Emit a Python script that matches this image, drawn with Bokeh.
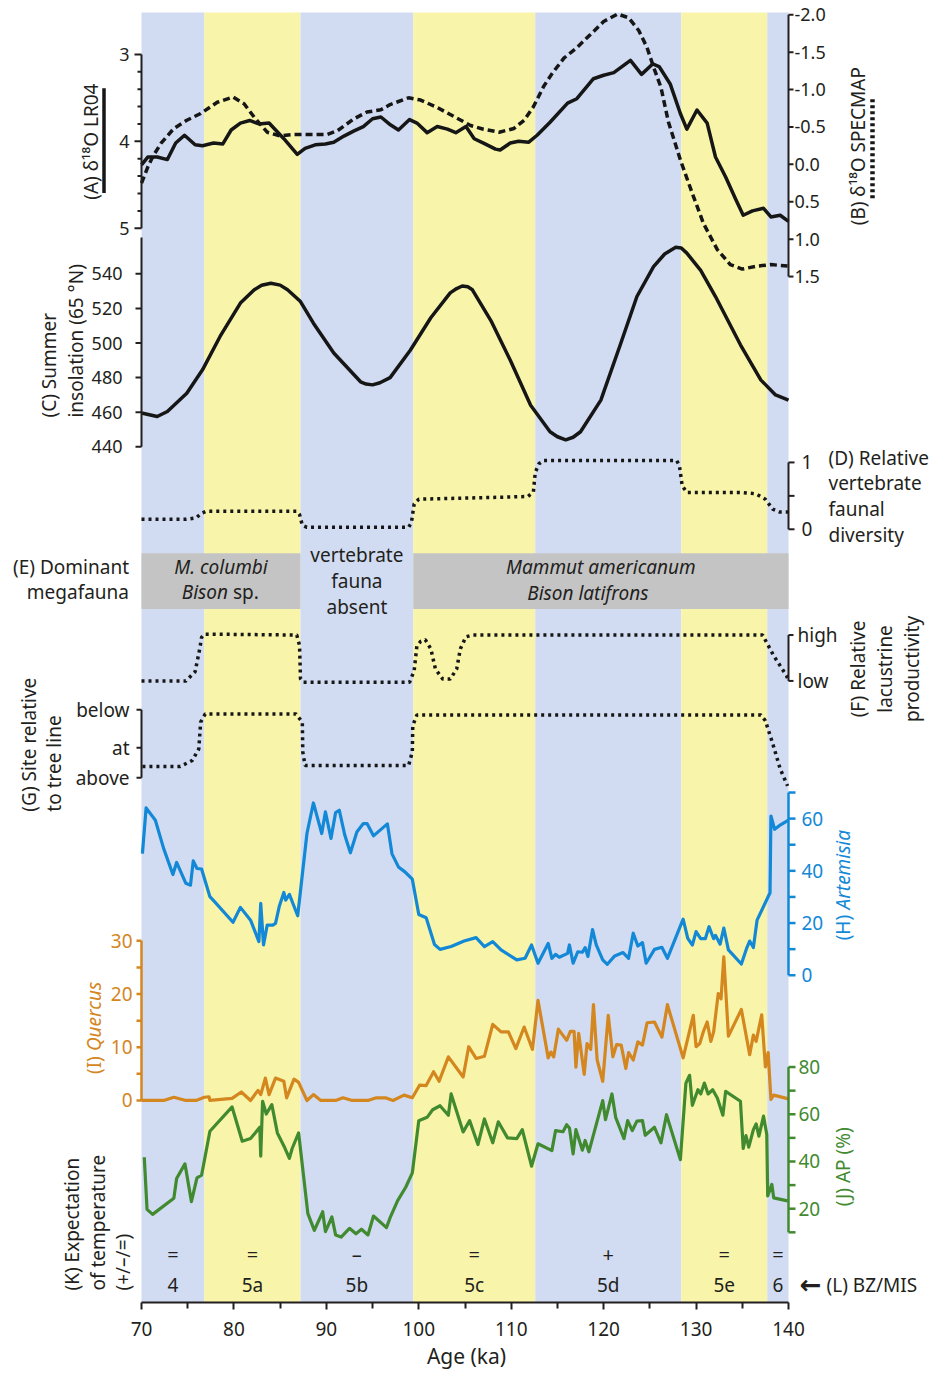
import math
from bokeh.plotting import figure
from bokeh.models import Range1d, BoxAnnotation, FixedTicker
from bokeh.core.properties import value
from bokeh.embed import file_html
from bokeh.resources import INLINE

# ---------------- data ----------------
band_edges = [70, 76.8, 87.2, 99.4, 112.6, 128.4, 137.7, 140]
band_names = ["4", "5a", "5b", "5c", "5d", "5e", "6"]
band_warm = [False, True, False, True, False, True, False]
temp_expect = ["=", "=", "\u2013", "=", "+", "=", "="]

age_ticks = [70, 80, 90, 100, 110, 120, 130, 140]
age_minor = [75, 85, 95, 105, 115, 125, 135]

# (A) d18O LR04 (solid)
lr04_age = [70.0, 70.7, 71.7, 72.8, 73.7, 74.65, 75.8, 76.6, 77.8, 78.8,
            79.7, 80.7, 81.7, 82.7, 83.8, 85.4, 86.85, 87.7, 88.8, 89.9,
            90.8, 91.9, 93.0, 94.0, 95.0, 95.9, 96.8, 97.8, 99.0, 99.8,
            100.9, 102.0, 103.1, 104.0, 105.1, 106.0, 107.0, 108.3, 108.8, 109.9,
            110.8, 111.9, 112.8, 114.2, 116.1, 117.1, 118.9, 120.0, 121.1, 122.9,
            124.1, 125.3, 126.0, 127.2, 128.3, 129.0, 130.1, 131.2, 132.1, 133.2,
            134.3, 135.1, 136.1, 137.3, 138.1, 139.1, 140.0]
lr04 = [4.27, 4.18, 4.18, 4.21, 4.02, 3.93, 4.04, 4.05, 4.02, 4.03,
        3.87, 3.79, 3.76, 3.80, 3.79, 3.97, 4.15, 4.08, 4.04, 4.03,
        4.01, 3.94, 3.88, 3.83, 3.74, 3.72, 3.80, 3.87, 3.75, 3.79,
        3.90, 3.83, 3.86, 3.90, 3.83, 3.97, 4.02, 4.09, 4.10, 4.02,
        4.00, 4.01, 3.93, 3.78, 3.56, 3.51, 3.28, 3.24, 3.21, 3.07,
        3.23, 3.11, 3.14, 3.34, 3.68, 3.86, 3.64, 3.79, 4.18, 4.41,
        4.67, 4.85, 4.80, 4.77, 4.87, 4.85, 4.92]

# (B) d18O SPECMAP (dashed)
specmap_age = [70.0, 70.7, 71.2, 72.1, 73.5, 74.9, 76.4, 78.2, 79.9, 81.1,
               82.2, 83.6, 85.0, 86.5, 90.1, 91.2, 93.0, 94.4, 95.9, 96.9,
               98.9, 100.2, 102.0, 103.8, 105.6, 107.0, 108.7, 110.3, 111.4, 112.4,
               113.5, 114.4, 115.7, 117.1, 118.6, 120.0, 121.5, 122.7, 123.8, 124.7,
               125.4, 126.2, 127.0, 128.3, 129.6, 130.8, 132.3, 133.7, 135.0, 136.6,
               138.1, 139.9]
specmap = [0.25, 0.03, -0.10, -0.28, -0.48, -0.59, -0.68, -0.83, -0.90, -0.81,
           -0.63, -0.43, -0.38, -0.40, -0.40, -0.45, -0.61, -0.70, -0.73, -0.80,
           -0.89, -0.86, -0.76, -0.64, -0.52, -0.47, -0.43, -0.48, -0.59, -0.77,
           -1.04, -1.21, -1.42, -1.56, -1.74, -1.91, -2.01, -1.96, -1.79, -1.56,
           -1.30, -1.03, -0.57, -0.06, 0.39, 0.79, 1.14, 1.34, 1.40, 1.36,
           1.34, 1.36]

# (C) summer insolation 65N
ins_age = [70.0, 71.7, 72.8, 74.9, 76.6, 78.5, 80.7, 82.2, 83.0, 84.0,
           85.0, 85.8, 87.2, 88.6, 90.8, 93.7, 94.3, 95.0, 95.8, 96.9,
           99.1, 101.3, 103.4, 104.1, 104.7, 105.3, 105.8, 107.8, 109.9, 112.1,
           114.2, 115.0, 115.9, 116.7, 117.5, 119.7, 121.8, 123.6, 125.4, 126.6,
           127.8, 128.4, 129.0, 130.5, 132.1, 134.8, 137.0, 138.6, 140.0]
ins = [459.5, 457.5, 460.4, 471.0, 484.5, 503.8, 523.1, 530.8, 533.4, 534.6,
       533.5, 530.8, 524.0, 511.5, 494.2, 477.6, 476.3, 475.8, 477.0, 480.0,
       496.0, 514.6, 529.0, 531.5, 533.0, 532.5, 530.8, 513.0, 490.0, 464.0,
       448.7, 445.8, 444.0, 445.5, 448.7, 467.0, 499.0, 526.9, 544.2, 551.5,
       555.4, 555.0, 552.0, 542.0, 526.9, 499.0, 478.7, 470.0, 467.0]

# (D) relative vertebrate faunal diversity
div_age = [70.0, 74.8, 75.9, 76.5, 77.0, 86.8, 87.1, 87.4, 87.9, 98.9,
           99.2, 99.5, 100.0, 111.8, 112.4, 112.6, 113.0, 113.5, 127.9, 128.2,
           128.5, 129.0, 135.0, 136.5, 137.5, 138.3, 139.0, 140.0]
div = [0.15, 0.15, 0.17, 0.24, 0.27, 0.27, 0.22, 0.06, 0.03, 0.03,
       0.10, 0.38, 0.45, 0.49, 0.56, 0.85, 0.98, 1.03, 1.03, 0.95,
       0.65, 0.55, 0.55, 0.53, 0.45, 0.30, 0.26, 0.26]

# (E) dominant megafauna: grey boxes span these band-edge index ranges
fauna_spans = [(0, 2), (3, 7)]

# (F) relative lacustrine productivity (0 = low, 1 = high)
lake_age = [70.0, 74.8, 75.8, 76.3, 76.5, 76.8, 86.8, 87.1, 87.2, 87.5,
            99.0, 99.5, 99.8, 100.2, 100.7, 101.3, 101.8, 102.6, 103.4, 104.1,
            104.5, 105.1, 105.8, 137.2, 138.4, 139.8, 140.0]
lake = [0.0, 0.0, 0.2, 0.7, 0.95, 1.02, 1.0, 0.77, 0.05, -0.03,
        -0.03, 0.22, 0.77, 0.86, 0.9, 0.7, 0.26, 0.04, 0.04, 0.26,
        0.7, 0.96, 1.0, 1.0, 0.55, 0.11, 0.0]

# (G) site relative to tree line (0 = above, 2 = below)
tree_age = [70.1, 74.2, 75.5, 76.2, 76.4, 76.9, 86.7, 87.4, 87.45, 87.7,
            98.9, 99.3, 99.35, 99.8, 137.0, 137.5, 138.3, 139.1, 139.9]
tree = [0.33, 0.33, 0.51, 0.85, 1.64, 1.88, 1.88, 1.64, 0.76, 0.36,
        0.36, 0.76, 1.54, 1.85, 1.85, 1.68, 1.0, 0.26, -0.24]

# (H) Artemisia %
art_age = [70.1, 70.5, 71.5, 72.4, 73.4, 73.8, 74.8, 75.3, 75.6, 76.0,
           76.5, 77.4, 77.9, 79.9, 80.7, 81.8, 82.7, 82.9, 83.2, 83.6,
           84.2, 84.5, 84.9, 85.4, 85.6, 86.0, 86.9, 87.9, 88.6, 89.5,
           89.9, 90.5, 91.0, 91.4, 92.0, 92.6, 93.3, 94.0, 94.4, 95.1,
           96.6, 97.1, 97.8, 98.5, 99.3, 100.0, 100.8, 101.7, 102.3, 103.5,
           104.9, 106.2, 107.1, 108.0, 108.9, 110.6, 111.5, 112.2, 112.9, 114.0,
           114.4, 114.8, 115.2, 116.1, 116.3, 116.7, 117.2, 117.7, 118.0, 118.3,
           118.8, 119.2, 119.9, 120.4, 121.2, 122.1, 122.7, 123.2, 123.7, 124.2,
           124.6, 125.5, 126.3, 126.9, 128.6, 129.1, 129.6, 130.0, 130.5, 131.0,
           131.4, 131.9, 132.1, 132.6, 133.0, 133.5, 134.9, 135.5, 135.8, 136.2,
           136.6, 138.0, 138.1, 138.5, 139.0, 140.0]
art = [46.6, 64.1, 59.4, 48.5, 38.6, 43.2, 35.2, 34.5, 43.8, 40.9,
       40.7, 30.1, 28.2, 20.3, 26.0, 21.1, 12.9, 27.5, 11.6, 19.2,
       19.2, 19.9, 26.3, 31.7, 28.8, 31.0, 22.8, 54.3, 66.0, 54.3,
       62.6, 52.4, 62.3, 63.2, 53.6, 46.9, 54.9, 58.1, 58.1, 53.4,
       58.0, 46.5, 41.5, 39.6, 36.8, 23.3, 22.0, 11.8, 9.9, 11.0,
       13.1, 14.4, 11.0, 12.9, 9.7, 5.9, 6.5, 11.6, 4.6, 12.2,
       6.5, 8.0, 6.9, 8.4, 11.6, 4.6, 9.0, 8.8, 10.6, 7.2,
       17.5, 11.6, 5.9, 4.2, 7.4, 8.7, 6.5, 16.1, 11.2, 12.5,
       4.6, 9.9, 10.7, 6.5, 21.5, 14.1, 11.6, 16.7, 14.0, 14.0,
       18.6, 14.0, 15.3, 11.9, 18.1, 9.7, 4.3, 10.6, 13.1, 10.6,
       21.1, 31.6, 61.0, 55.9, 57.3, 59.4]

# (I) Quercus %
que_age = [70.0, 72.4, 73.5, 74.8, 75.9, 76.8, 77.3, 77.4, 79.8, 80.8,
           81.8, 82.6, 82.9, 83.4, 83.8, 84.5, 85.4, 85.7, 86.5, 87.0,
           87.9, 88.6, 89.4, 91.0, 91.8, 92.8, 94.5, 95.4, 96.4, 97.2,
           98.4, 99.3, 100.1, 100.8, 101.6, 102.2, 103.2, 104.8, 105.4, 106.2,
           107.1, 108.0, 108.9, 109.7, 110.5, 111.4, 112.3, 112.9, 114.0, 114.3,
           114.6, 115.1, 116.0, 116.4, 116.8, 117.0, 117.3, 117.9, 118.2, 118.6,
           118.9, 119.3, 119.9, 120.5, 121.0, 121.4, 121.9, 122.4, 122.7, 123.2,
           123.7, 124.2, 124.7, 125.5, 126.3, 126.9, 128.6, 129.7, 130.0, 130.4,
           130.8, 131.2, 131.6, 131.9, 132.4, 132.7, 133.0, 133.5, 134.9, 135.8,
           136.2, 136.5, 137.1, 137.5, 137.8, 138.1, 138.4, 140.0]
que = [0.0, 0.0, 0.6, 0.0, 0.0, 0.6, 0.7, 0.0, 0.4, 1.6,
       0.0, 1.9, 1.1, 4.2, 1.1, 4.2, 3.6, 0.5, 4.0, 3.4,
       0.0, 1.1, 0.0, 0.0, 0.5, 0.0, 0.0, 0.5, 0.5, 0.0,
       1.0, 0.5, 2.9, 2.8, 5.4, 3.6, 8.2, 4.4, 10.1, 7.9,
       8.3, 14.3, 12.9, 12.9, 9.75, 13.8, 9.6, 18.8, 8.0, 9.1,
       8.2, 13.4, 11.3, 13.0, 13.0, 6.25, 12.6, 4.9, 10.7, 9.6,
       18.0, 7.6, 3.6, 16.0, 8.2, 10.5, 10.4, 6.0, 9.0, 7.6,
       11.0, 10.4, 14.6, 14.75, 11.9, 18.0, 8.0, 16.0, 10.1, 10.7,
       13.0, 14.75, 11.1, 12.9, 20.1, 19.1, 27.0, 12.1, 17.1, 8.6,
       12.3, 11.1, 16.1, 6.3, 9.0, 0.2, 1.0, 0.3]

# (J) arboreal pollen %
ap_age = [70.3, 70.6, 71.2, 73.5, 73.8, 74.7, 75.4, 76.0, 76.5, 77.4,
          79.8, 80.9, 81.8, 82.8, 82.9, 83.1, 83.5, 84.1, 84.7, 85.5,
          86.0, 86.3, 87.0, 88.0, 88.7, 89.6, 89.9, 90.6, 91.0, 91.6,
          92.5, 93.2, 93.8, 94.5, 95.1, 96.5, 96.9, 97.7, 98.6, 99.3,
          100.0, 100.9, 101.5, 102.3, 103.2, 103.5, 104.8, 105.5, 106.4, 107.1,
          108.0, 108.6, 109.6, 110.6, 111.2, 112.2, 112.9, 114.4, 114.8, 115.6,
          116.0, 116.3, 116.7, 117.0, 117.7, 118.0, 118.4, 119.9, 120.2, 120.9,
          121.3, 122.2, 122.6, 123.1, 123.6, 124.2, 124.5, 125.5, 126.2, 126.8,
          128.3, 128.9, 129.3, 129.6, 130.2, 130.5, 130.9, 131.3, 131.8, 132.3,
          132.9, 133.2, 134.8, 135.1, 135.4, 135.7, 136.2, 136.5, 136.8, 137.3,
          137.65, 137.75, 138.2, 138.4, 139.9]
ap = [41.8, 19.7, 17.6, 24.4, 32.8, 39.0, 23.0, 33.1, 34.2, 52.8,
      63.1, 48.6, 49.7, 54.5, 42.3, 65.5, 60.1, 64.1, 52.1, 45.8,
      41.3, 45.5, 52.1, 17.9, 10.8, 18.7, 10.3, 16.5, 8.9, 8.0,
      11.7, 9.4, 11.3, 8.9, 16.9, 12.0, 16.2, 23.3, 29.2, 35.2,
      57.3, 58.7, 61.9, 63.6, 59.6, 68.6, 52.5, 57.3, 47.2, 58.0,
      47.9, 56.8, 50.0, 49.7, 53.5, 38.0, 47.5, 44.6, 53.1, 52.6,
      55.6, 54.2, 43.2, 53.5, 44.8, 48.9, 44.1, 65.8, 57.7, 68.6,
      58.7, 49.7, 57.3, 53.1, 57.1, 57.3, 51.1, 54.5, 47.9, 59.8,
      40.8, 73.2, 76.5, 63.8, 70.4, 68.6, 73.2, 68.6, 70.4, 66.9,
      59.6, 69.7, 65.5, 45.5, 51.0, 46.1, 53.5, 55.9, 50.7, 59.2,
      51.4, 25.4, 30.3, 24.6, 23.3]

# axis tick values / labels
a_ticks = [3, 4, 5]
a_minor = [3.2, 3.4, 3.6, 3.8, 4.2, 4.4, 4.6, 4.8]
b_ticks = [-2.0, -1.5, -1.0, -0.5, 0.0, 0.5, 1.0, 1.5]
b_labels = ["-2.0", "-1.5", "-1.0", "-0.5", "0.0", "0.5", "1.0", "1.5"]
c_ticks = [440, 460, 480, 500, 520, 540]
d_ticks = [0, 0.5, 1]
d_label_vals = [0, 1]
d_labels = ["0", "1"]
f_ticks = [0, 1]
f_labels = ["low", "high"]
g_ticks = [0, 0.88, 2]
g_labels = ["above", "at", "below"]
h_ticks = [0, 10, 20, 30, 40, 50, 60, 70]
h_label_vals = [0, 20, 40, 60]
i_ticks = [0, 5, 10, 15, 20, 25, 30]
i_label_vals = [0, 10, 20, 30]
j_ticks = [10, 20, 30, 40, 50, 60, 70, 80]
j_label_vals = [20, 40, 60, 80]

# ---------------- style ----------------
FONT = "Noto Sans"
INK = "#231f20"
LINE = "#161616"
BLUE_BG = "#d1dcf2"
YELLOW_BG = "#f8f5aa"
GREY = "#c4c4c4"
C_ART = "#1288d6"
C_QUE = "#d4861f"
C_AP = "#418a2f"

W, H = 932, 1372
PAGE_MARGIN = 0.0
FRAME_TOP = PAGE_MARGIN
FRAME_BOTTOM = 1305.0
AX_L_PX, AX_R_PX = 141.0, 788.0
AGE_LO, AGE_HI = band_edges[0], band_edges[-1]
PPK = (AX_R_PX - AX_L_PX) / (AGE_HI - AGE_LO)


def px2age(px):
    return AGE_LO + (px - AX_L_PX) / PPK


def panel_range(v1, p1, v2, p2):
    s = (v2 - v1) / (p2 - p1)
    return Range1d(start=v1 + (FRAME_BOTTOM - p1) * s, end=v1 + (FRAME_TOP - p1) * s)


p = figure(width=W, height=H,
           x_range=Range1d(px2age(PAGE_MARGIN), px2age(PAGE_MARGIN + W)),
           y_range=Range1d(FRAME_BOTTOM, FRAME_TOP),
           output_backend="svg", toolbar_location=None, y_axis_location=None,
           min_border_left=0, min_border_right=0, min_border_top=0,
           min_border_bottom=int(H - (FRAME_BOTTOM - PAGE_MARGIN)))
p.outline_line_color = None
p.grid.visible = False
p.background_fill_color = "white"
p.border_fill_color = "white"

p.extra_y_ranges = {
    "A": panel_range(3, 54.0, 5, 228.3),
    "B": panel_range(-2.0, 14.3, 1.5, 276.7),
    "C": panel_range(440, 447.3, 540, 274.0),
    "D": panel_range(0, 530.0, 1, 463.0),
    "F": panel_range(0, 682.0, 1, 636.0),
    "G": panel_range(0, 779.0, 2, 711.0),
    "H": panel_range(0, 977.0, 60, 820.0),
    "I": panel_range(0, 1102.5, 30, 942.5),
    "J": panel_range(20, 1211.0, 80, 1069.0),
}

# background bands (MIS stages)
for a, b, warm in zip(band_edges[:-1], band_edges[1:], band_warm):
    p.add_layout(BoxAnnotation(left=a, right=b, top=12, fill_color=YELLOW_BG if warm else BLUE_BG,
                               fill_alpha=1.0, line_color=None, level="underlay"))

# (E) grey boxes
p.quad(left=[band_edges[i] for i, _ in fauna_spans], right=[band_edges[j] for _, j in fauna_spans],
       top=[554, 554], bottom=[610, 610], fill_color=GREY, line_color=None)

# ---------------- series ----------------
p.line(specmap_age, specmap, y_range_name="B", line_color=LINE, line_width=3.5, line_dash="7 4")
p.line(lr04_age, lr04, y_range_name="A", line_color=LINE, line_width=3.5, line_join="round")
p.line(ins_age, ins, y_range_name="C", line_color=LINE, line_width=3.5, line_join="round")
p.line(div_age, div, y_range_name="D", line_color=LINE, line_width=3.5, line_dash="3 4")
p.line(lake_age, lake, y_range_name="F", line_color=LINE, line_width=3.5, line_dash="3 4")
p.line(tree_age, tree, y_range_name="G", line_color=LINE, line_width=3.5, line_dash="3 4")
p.line(art_age, art, y_range_name="H", line_color=C_ART, line_width=3.2, line_join="round")
p.line(que_age, que, y_range_name="I", line_color=C_QUE, line_width=3.2, line_join="round")
p.line(ap_age, ap, y_range_name="J", line_color=C_AP, line_width=3.2, line_join="round")


# ---------------- helpers ----------------
def txt(x, y, text, size=19, color=INK, align="center", baseline="middle", angle=0.0,
        style="normal", rn="default", dx=0, font=FONT):
    xs = x if isinstance(x, list) else [x]
    ys = y if isinstance(y, list) else [y]
    ts = text if isinstance(text, list) else [text]
    p.text(x=xs, y=ys, text=ts, x_offset=dx, angle=angle, text_font=value(font),
           text_font_size=f"{size}px", text_font_style=style, text_color=color,
           text_align=align, text_baseline=baseline, y_range_name=rn)


def vaxis(rn, side, lo, hi, ticks, tick_len, lab_vals, labs, color, size, gap,
          lw=2.0, minor=(), minor_len=0):
    left = side == "left"
    ax = AGE_LO if left else AGE_HI
    sgn = -1.0 if left else 1.0
    p.segment(x0=[ax], y0=[lo], x1=[ax], y1=[hi], line_color=color, line_width=lw, y_range_name=rn)
    n = len(ticks)
    p.segment(x0=[ax] * n, y0=list(ticks), x1=[ax + sgn * tick_len / PPK] * n, y1=list(ticks),
              line_color=color, line_width=lw, y_range_name=rn)
    if minor:
        m = len(minor)
        p.segment(x0=[ax] * m, y0=list(minor), x1=[ax + sgn * minor_len / PPK] * m, y1=list(minor),
                  line_color=color, line_width=lw, y_range_name=rn)
    txt([ax] * len(lab_vals), list(lab_vals), list(labs), size=size, color=color,
        align="right" if left else "left", rn=rn, dx=sgn * gap)


# ---------------- panel axes ----------------
vaxis("A", "left", 3, 5, a_ticks, 7, a_ticks, [str(v) for v in a_ticks], INK, 18, 12,
      minor=a_minor, minor_len=4)
vaxis("B", "right", -2.0, 1.5, b_ticks, 5, b_ticks, b_labels, INK, 18, 6)
vaxis("C", "left", 440, 561, c_ticks, 6, c_ticks, [str(v) for v in c_ticks], INK, 18, 19)
vaxis("D", "right", 0, 1, d_ticks, 6, d_label_vals, d_labels, INK, 19, 13)
vaxis("F", "right", 0, 1, f_ticks, 5, f_ticks, f_labels, INK, 19, 9)
vaxis("G", "left", 0, 2, g_ticks, 5, g_ticks, g_labels, INK, 19, 12)
vaxis("H", "right", 0, 70, h_ticks, 7, h_label_vals, [str(v) for v in h_label_vals], C_ART, 19, 13, lw=2.5)
vaxis("I", "left", 0, 30, i_ticks, 5, i_label_vals, [str(v) for v in i_label_vals], C_QUE, 19, 9, lw=2.5)
vaxis("J", "right", 10, 80, j_ticks, 7, j_label_vals, [str(v) for v in j_label_vals], C_AP, 19, 10, lw=2.5)

# ---------------- panel titles ----------------
R = math.pi / 2
txt(px2age(90), 141.5, "(A) \u03b4\u00b9\u2078O LR04", angle=R)
p.segment(x0=[px2age(103.5)], y0=[88], x1=[px2age(103.5)], y1=[193], line_color=LINE, line_width=3.5)
txt(px2age(857.5), 146, "(B) \u03b4\u00b9\u2078O SPECMAP", angle=R)
p.segment(x0=[px2age(872)], y0=[99], x1=[px2age(872)], y1=[201], line_color=LINE, line_width=4.5,
          line_dash="3 3")
txt([px2age(48.5), px2age(75)], [418, 418], ["(C) Summer", "insolation (65 \u00b0N)"], align="left", angle=R)
txt([px2age(828)] * 4, [459, 484, 510, 536], ["(D) Relative", "vertebrate", "faunal", "diversity"],
    size=19, align="left")
txt([px2age(128.5)] * 2, [568, 593], ["(E) Dominant", "megafauna"], align="right")
txt([px2age(857), px2age(884), px2age(911)], [670, 670, 670],
    ["(F) Relative", "lacustrine", "productivity"], angle=R)
txt([px2age(28), px2age(53)], [813, 813], ["(G) Site relative", "to tree line"], align="left", angle=R)
txt(px2age(842), 942, "(H)", color=C_ART, align="left", angle=R)
txt(px2age(842), 911, "Artemisia", color=C_ART, align="left", angle=R, style="italic")
txt(px2age(93), 1076, "(I)", color=C_QUE, align="left", angle=R)
txt(px2age(93), 1053, "Quercus", color=C_QUE, align="left", angle=R, style="italic")
txt(px2age(842), 1169, "(J) AP (%)", color=C_AP, angle=R)
txt([px2age(71), px2age(97), px2age(122)], [1293] * 3,
    ["(K) Expectation", "of temperature", "(+/\u2013/=)"], align="left", angle=R)

# (E) megafauna box texts
c1 = (band_edges[fauna_spans[0][0]] + band_edges[fauna_spans[0][1]]) / 2
c2 = (band_edges[fauna_spans[1][0]] + band_edges[fauna_spans[1][1]]) / 2
c_mid = (band_edges[2] + band_edges[3]) / 2
txt(c1, 568, "M. columbi", style="italic")
txt(c1, 593, "Bison", style="italic", align="right", dx=7)
txt(c1, 593, "sp.", align="left", dx=12)
txt(c2, 568, "Mammut americanum", style="italic")
txt(c2, 594, "Bison latifrons", style="italic", dx=-13)
txt([c_mid] * 3, [556, 582, 608], ["vertebrate", "fauna", "absent"])

# (K) temperature expectation and (L) stage labels
centers = [(a + b) / 2 for a, b in zip(band_edges[:-1], band_edges[1:])]
txt(centers, [1257] * len(centers), temp_expect, size=20)
txt(centers, [1287] * len(centers), band_names)
txt(px2age(821), 1287, "\u2190", size=26, align="right", font="DejaVu Sans", style="bold")
txt(px2age(826), 1287, "(L) BZ/MIS", align="left")

# ---------------- age axis ----------------
xa = p.xaxis[0]
xa.ticker = FixedTicker(ticks=age_ticks, minor_ticks=age_minor)
xa.bounds = (AGE_LO, AGE_HI)
xa.axis_label = "Age (ka)"
xa.axis_line_width = 2
xa.axis_line_color = INK
xa.major_tick_line_color = INK
xa.minor_tick_line_color = INK
xa.major_tick_line_width = 2
xa.minor_tick_line_width = 2
xa.major_tick_out = 7
xa.major_tick_in = 0
xa.minor_tick_out = 6
xa.minor_tick_in = 0
xa.major_label_text_font = FONT
xa.major_label_text_font_size = "19px"
xa.major_label_text_color = INK
xa.major_label_standoff = 12
xa.axis_label_text_font = FONT
xa.axis_label_text_font_size = "21px"
xa.axis_label_text_font_style = "normal"
xa.axis_label_text_color = INK
xa.axis_label_standoff = 3

open("out.html", "w").write(file_html(p, INLINE))
